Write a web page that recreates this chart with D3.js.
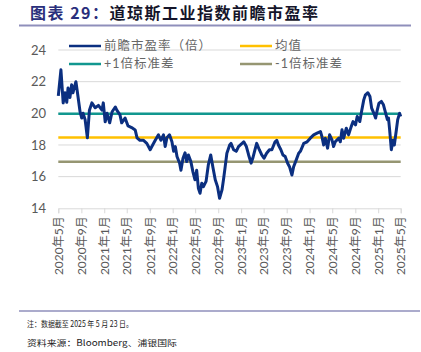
<!DOCTYPE html>
<html><head><meta charset="utf-8">
<script src="https://cdn.jsdelivr.net/npm/d3@7/dist/d3.min.js"></script>
<style>
html,body{margin:0;padding:0;background:#fff;}
svg{display:block;}
</style></head>
<body>
<svg id="chart" width="421" height="352"></svg>
<script>
// ---- data ----
const dates = ["2020-05-23","2020-06-06","2020-06-18","2020-06-28","2020-07-07","2020-07-14","2020-07-24","2020-08-02","2020-08-09","2020-08-25","2020-09-05","2020-09-16","2020-09-25","2020-10-02","2020-10-13","2020-10-25","2020-11-05","2020-11-18","2020-12-06","2020-12-23","2021-01-11","2021-01-18","2021-01-28","2021-02-07","2021-02-21","2021-03-06","2021-03-23","2021-03-31","2021-04-17","2021-04-26","2021-05-14","2021-05-30","2021-06-18","2021-07-07","2021-07-17","2021-08-01","2021-08-19","2021-09-07","2021-09-25","2021-10-04","2021-10-22","2021-11-08","2021-11-21","2021-12-05","2021-12-14","2021-12-23","2022-01-06","2022-01-19","2022-01-28","2022-02-06","2022-02-15","2022-03-01","2022-03-08","2022-03-19","2022-03-30","2022-04-08","2022-04-17","2022-04-30","2022-05-11","2022-05-22","2022-05-31","2022-06-09","2022-06-18","2022-06-27","2022-07-06","2022-07-20","2022-08-01","2022-08-14","2022-08-25","2022-09-07","2022-09-19","2022-09-30","2022-10-13","2022-10-22","2022-10-30","2022-11-08","2022-11-23","2022-11-30","2022-12-14","2022-12-28","2023-01-09","2023-01-28","2023-02-06","2023-02-20","2023-03-04","2023-03-17","2023-03-26","2023-04-07","2023-04-16","2023-04-30","2023-05-13","2023-05-25","2023-06-08","2023-06-23","2023-07-06","2023-07-23","2023-08-01","2023-08-10","2023-08-23","2023-09-03","2023-09-15","2023-09-28","2023-10-08","2023-10-21","2023-10-30","2023-11-13","2023-11-26","2023-12-05","2023-12-23","2024-01-10","2024-01-27","2024-02-14","2024-03-03","2024-03-21","2024-03-29","2024-04-07","2024-04-16","2024-04-28","2024-05-09","2024-05-22","2024-05-30","2024-06-08","2024-06-26","2024-07-05","2024-07-14","2024-07-23","2024-08-06","2024-08-18","2024-09-01","2024-09-11","2024-09-24","2024-10-03","2024-10-17","2024-10-26","2024-11-07","2024-11-16","2024-11-29","2024-12-10","2024-12-19","2024-12-31","2025-01-09","2025-01-18","2025-01-27","2025-02-09","2025-02-20","2025-03-04","2025-03-13","2025-03-19","2025-03-25","2025-04-03","2025-04-12","2025-04-19","2025-04-30","2025-05-07","2025-05-17","2025-05-23"];
const pe = [21.1,22.75,20.66,21.3,20.7,21.6,21.0,21.8,21.3,22.0,21.06,20.1,19.7,20.0,19.6,18.45,20.2,20.66,20.35,20.5,20.2,20.66,19.46,20.0,19.4,20.1,20.4,20.2,19.9,19.4,19.7,19.2,19.1,18.95,18.45,18.3,18.3,18.1,17.7,17.9,18.3,18.64,18.3,18.64,17.9,18.45,18.64,18.2,17.6,17.9,17.27,16.85,16.4,17.16,17.5,16.95,17.37,16.95,16.3,15.8,16.4,15.27,14.95,15.58,15.37,15.7,16.74,17.37,16.63,15.8,15.37,14.63,15.16,15.9,16.63,17.48,18.0,18.1,17.7,17.6,17.9,18.1,18.2,17.9,17.37,16.85,17.16,17.7,18.1,17.7,17.37,17.16,17.48,17.7,17.7,18.2,18.3,18.0,17.7,17.37,17.27,16.85,16.63,16.1,16.63,17.06,17.48,17.6,18.1,18.2,18.43,18.64,18.75,18.85,18.53,18.0,18.43,17.8,18.64,18.3,17.9,18.2,18.43,18.2,18.96,18.43,19.06,18.64,19.16,19.48,19.27,19.8,19.48,20.1,20.85,21.17,21.3,21.06,20.33,20.0,19.7,20.2,20.64,20.75,20.54,20.0,19.6,19.7,18.96,17.7,18.3,18.0,18.96,19.6,20.0,19.8,20.1];
const meanValue = 18.47;
const plusOneStd = 19.98;
const minusOneStd = 16.94;
const yTicks = [14,16,18,20,22,24];
const tickDates = ["2020-05-23","2020-09-23","2021-01-23","2021-05-23","2021-09-23","2022-01-23","2022-05-23","2022-09-23","2023-01-23","2023-05-23","2023-09-23","2024-01-23","2024-05-23","2024-09-23","2025-01-23","2025-05-23"];
const tickLabels = ["2020年5月","2020年9月","2021年1月","2021年5月","2021年9月","2022年1月","2022年5月","2022年9月","2023年1月","2023年5月","2023年9月","2024年1月","2024年5月","2024年9月","2025年1月","2025年5月"];
const legendNames = ["前瞻市盈率（倍）","均值","+1倍标准差","-1倍标准差"];
const titleParts = ["图表 29：","道琼斯工业指数前瞻市盈率"];
const notes = ["注：数据截至 2025 年 5 月 23 日。","资料来源：Bloomberg、浦银国际"];

// ---- drawing ----
const parse = d3.utcParse("%Y-%m-%d");
const series = dates.map((d,i)=>({date:parse(d), v:pe[i]}));
const svg = d3.select("#chart");
const FONT = "Lato, 'Noto Sans CJK SC', sans-serif";
const colors = {pe:"#0b2f80", mean:"#ffc000", plus:"#11978f", minus:"#969672"};

const x = d3.scaleUtc().domain([parse(tickDates[0]), parse(tickDates[tickDates.length-1])]).range([58.3, 400.7]);
const y = d3.scaleLinear().domain([14,24]).range([208.3, 50]);

// title
const title = svg.append("text").attr("x",30).attr("y",19).attr("font-family","'Noto Sans CJK SC', sans-serif")
  .attr("font-size",16).attr("font-weight","bold").attr("letter-spacing",1.5);
title.append("tspan").attr("fill","#2a2f7c").text(titleParts[0]);
title.append("tspan").attr("fill","#15152a").text(titleParts[1]);
svg.append("line").attr("x1",19).attr("x2",411).attr("y1",25.5).attr("y2",25.5).attr("stroke","#8f8fbb").attr("stroke-width",2);

// gridlines
svg.append("g").selectAll("line").data(yTicks.filter(t=>t>14)).join("line")
  .attr("x1",58.3).attr("x2",400.7).attr("y1",d=>y(d)).attr("y2",d=>y(d))
  .attr("stroke","#d9d9d9").attr("stroke-width",1);

// y axis labels
const yAxis = svg.append("g").attr("transform","translate(46,0)")
  .call(d3.axisLeft(y).tickValues(yTicks).tickSize(0).tickPadding(0));
yAxis.select(".domain").remove();
yAxis.selectAll("text").attr("font-family",FONT).attr("font-size",13).attr("fill","#595959");

// x axis
const xAxis = svg.append("g").attr("transform",`translate(0,${y(14)})`)
  .call(d3.axisBottom(x).tickValues(tickDates.map(parse)).tickSize(5).tickFormat((d,i)=>tickLabels[i]));
xAxis.select(".domain").attr("stroke","#d9d9d9");
xAxis.selectAll(".tick line").attr("stroke","#d9d9d9");
xAxis.selectAll("text").attr("font-family",FONT).attr("font-size",12).attr("fill","#595959")
  .attr("transform","rotate(-90)").attr("text-anchor","end").attr("dx","-8").attr("dy","0.35em").attr("y",0);

// reference lines
const refs = [[minusOneStd,colors.minus],[meanValue,colors.mean],[plusOneStd,colors.plus]];
svg.append("g").selectAll("line").data(refs).join("line")
  .attr("x1",58.3).attr("x2",400.7).attr("y1",d=>y(d[0])).attr("y2",d=>y(d[0]))
  .attr("stroke",d=>d[1]).attr("stroke-width",2.5);

// main line
svg.append("path").datum(series)
  .attr("d", d3.line().x(d=>x(d.date)).y(d=>y(d.v)))
  .attr("fill","none").attr("stroke",colors.pe).attr("stroke-width",3).attr("stroke-linejoin","round");

// legend
const legendItems = [
  {name:legendNames[0], c:colors.pe, lx:69, ly:46},
  {name:legendNames[1], c:colors.mean, lx:240, ly:46},
  {name:legendNames[2], c:colors.plus, lx:69, ly:64},
  {name:legendNames[3], c:colors.minus, lx:240, ly:64}
];
const lg = svg.append("g").selectAll("g").data(legendItems).join("g");
lg.append("line").attr("x1",d=>d.lx).attr("x2",d=>d.lx+32).attr("y1",d=>d.ly).attr("y2",d=>d.ly)
  .attr("stroke",d=>d.c).attr("stroke-width",2.5);
lg.append("text").attr("x",d=>d.lx+35).attr("y",d=>d.ly).attr("dy","0.35em")
  .attr("font-family",FONT).attr("font-size",12.5).attr("letter-spacing",1).attr("fill","#666").text(d=>d.name);

// footer
svg.append("line").attr("x1",19).attr("x2",420).attr("y1",311).attr("y2",311).attr("stroke","#8f8fbb").attr("stroke-width",1.5);
svg.selectAll(".note").data(notes).join("text").attr("class","note")
  .attr("x",27).attr("y",(d,i)=>327+i*19).attr("font-family","'Noto Sans CJK SC', sans-serif")
  .attr("font-size",8.5).attr("fill","#222")
  .attr("textLength",(d,i)=>i===0?106:150).attr("lengthAdjust","spacingAndGlyphs").text(d=>d);
</script>
</body></html>
